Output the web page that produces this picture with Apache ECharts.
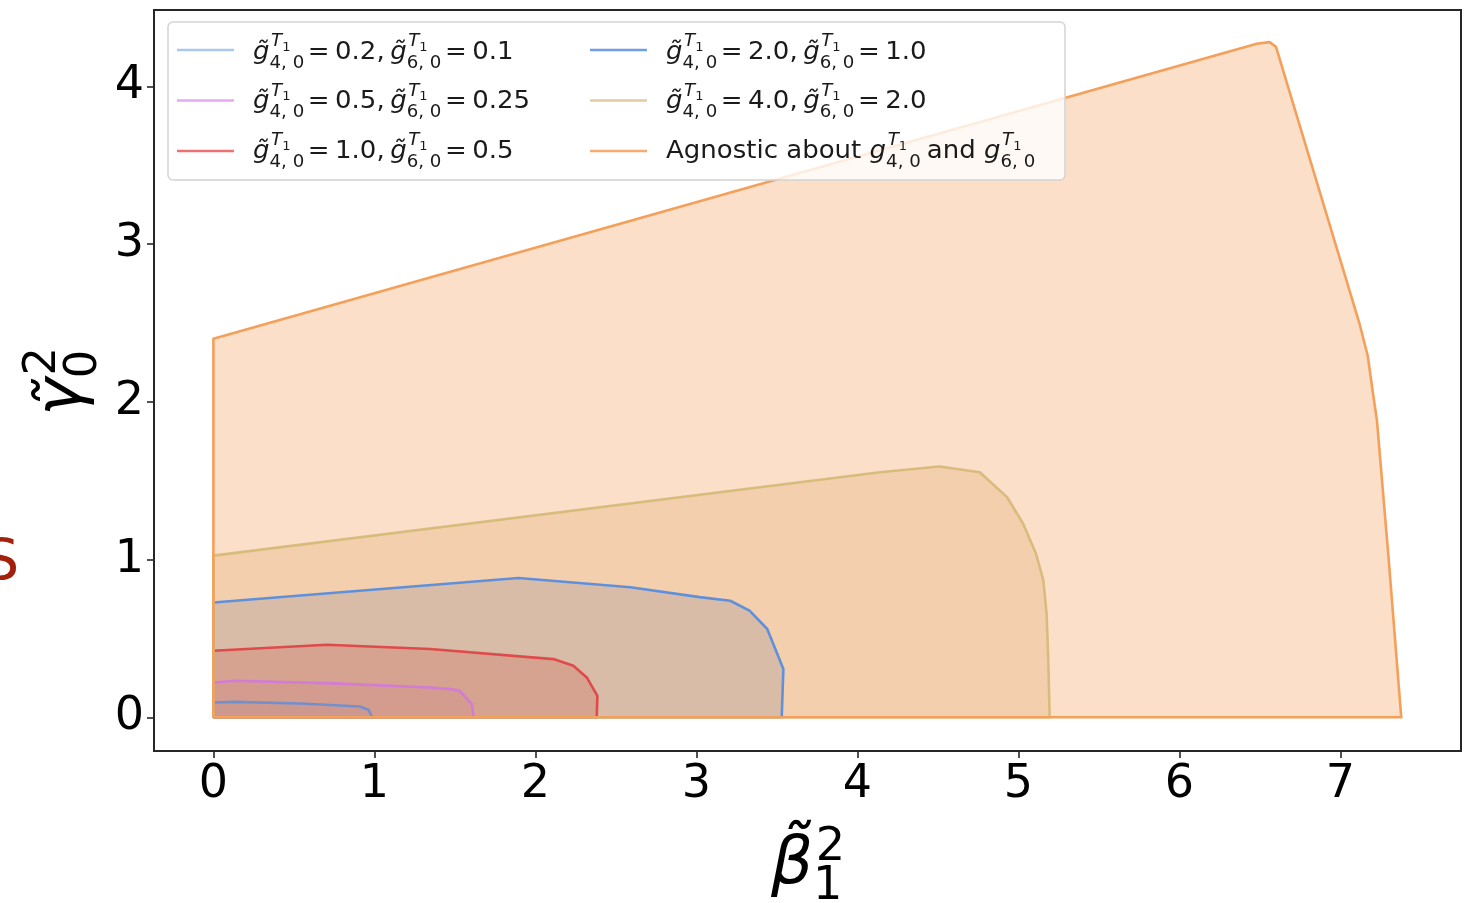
<!DOCTYPE html>
<html><head><meta charset="utf-8">
<script src="https://cdn.jsdelivr.net/npm/echarts@6/dist/echarts.min.js"></script>
<style>html,body{margin:0;padding:0;background:#fff}#c{width:1475px;height:903px}</style>
</head><body><div id="c"></div>
<script>
// ---- data ----
const xTicks = [0, 1, 2, 3, 4, 5, 6, 7];
const yTicks = [0, 1, 2, 3, 4];
const g40Labels = ['0.2', '0.5', '1.0', '2.0', '4.0'];
const g60Labels = ['0.1', '0.25', '0.5', '1.0', '2.0'];
const agnosticLabel = 'Agnostic about';
// boundaries of each allowed region: [beta1^2, gamma0^2]
const region02 = [[0,0],[0,0.094],[0.13,0.098],[0.54,0.088],[0.91,0.069],[0.965,0.046],[0.985,0]];
const region05 = [[0,0],[0,0.221],[0.13,0.232],[0.75,0.215],[1.347,0.189],[1.47,0.179],[1.53,0.168],[1.605,0.084],[1.615,0]];
const region10 = [[0,0],[0,0.422],[0.705,0.46],[1.347,0.433],[2.112,0.369],[2.236,0.327],[2.319,0.253],[2.385,0.136],[2.381,0]];
const region20 = [[0,0],[0,0.728],[1.895,0.883],[2.59,0.824],[3.02,0.762],[3.21,0.739],[3.33,0.676],[3.44,0.56],[3.54,0.306],[3.53,0]];
const region40 = [[0,0],[0,1.025],[4.14,1.553],[4.51,1.59],[4.76,1.553],[4.93,1.395],[5.03,1.226],[5.11,1.035],[5.155,0.866],[5.175,0.655],[5.185,0.38],[5.194,0]];
const regionAgn = [[0,0],[0,2.40],[6.48,4.27],[6.56,4.28],[6.60,4.25],[7.12,2.49],[7.17,2.29],[7.20,2.07],[7.227,1.88],[7.30,1.0],[7.378,0]];

const regions = [region02, region05, region10, region20, region40, regionAgn];
const fillColors = ['#6495ed', '#e070e0', '#d83434', '#5585e0', '#deb887', '#f2a15e'];
const fillOpacity = [0.34, 0.36, 0.42, 0.36, 0.34, 0.34];
const lineColors = ['#7390cc', '#d37bd6', '#df4a4a', '#5f90dc', '#d8bc7e', '#f4a05a'];
const legendColors = ['#a8c8f0', '#e6a8f3', '#ee7070', '#6f9fe6', '#e0cca0', '#f7ab70'];

// ---- text helpers ----
const FF = '"DejaVu Sans"';
const cv = document.createElement('canvas').getContext('2d');
function tw(s, font) { cv.font = font; return cv.measureText(s).width; }
function T(text, x, B, fs, italic, fill, sx) {
  return { type: 'text', x: x, y: B - 0.3 * fs, z: 100, scaleX: sx || 1,
    style: { text: text, font: (italic ? 'italic ' : '') + fs + 'px ' + FF, fill: fill || '#1a1a1a', align: 'left', verticalAlign: 'middle' } };
}
// base glyph with superscript and subscript stacked (mathtext-like); k = horizontal stretch
function scripted(els, x, B, fs, base, tilde, supKind, sub, fill, supShift, subShift, k) {
  k = k || 1;
  const fb = 'italic ' + fs + 'px ' + FF;
  els.push(T(base + (tilde ? '\u0303' : ''), x, B, fs, true, fill, k));
  const wb = tw(base, fb) * k;
  const sfs = fs * 0.7, ssfs = fs * 0.5;
  const sx = x + wb;
  let wsup;
  if (supKind === 'T1') {
    const fT = 'italic ' + sfs + 'px ' + FF;
    const wT = tw('T', fT) * k;
    els.push(T('T', sx + fs * 0.06 * k, B - fs * supShift, sfs, true, fill, k));
    els.push(T('1', sx + fs * 0.06 * k + wT, B - fs * supShift + ssfs * 0.35, ssfs, false, fill, k));
    wsup = fs * 0.06 * k + wT + tw('1', ssfs + 'px ' + FF) * k;
  } else {
    els.push(T(supKind, sx + fs * 0.04 * k, B - fs * supShift, sfs, false, fill, k));
    wsup = fs * 0.04 * k + tw(supKind, sfs + 'px ' + FF) * k;
  }
  els.push(T(sub, sx, B + fs * subShift, sfs, false, fill, k));
  const wsub = tw(sub, sfs + 'px ' + FF) * k;
  return sx + Math.max(wsup, wsub);
}
const LFS = 25.5, LK = 1.02;
function legendRow(els, x, B, a, b) {
  const f = LFS + 'px ' + FF;
  let cx = scripted(els, x, B, LFS, 'g', true, 'T1', '4, 0', null, 0.52, 0.33, LK);
  cx += 3.5; els.push(T('=', cx, B, LFS, false, null, LK)); cx += tw('=', f) * LK + 5.5;
  els.push(T(a + ',', cx, B, LFS, false, null, LK)); cx += tw(a + ',', f) * LK + 5.5;
  cx = scripted(els, cx, B, LFS, 'g', true, 'T1', '6, 0', null, 0.52, 0.33, LK);
  cx += 3.5; els.push(T('=', cx, B, LFS, false, null, LK)); cx += tw('=', f) * LK + 5.5;
  els.push(T(b, cx, B, LFS, false, null, LK));
}

const graphics = [];
// legend box
graphics.push({ type: 'rect', z: 99, shape: { x: 168, y: 22, width: 897, height: 158, r: 5 },
  style: { fill: 'rgba(255,255,255,0.8)', stroke: '#d4d4d4', lineWidth: 1.5 } });
const rowsB = [60, 109.5, 159];
const lineY = [50, 100.5, 151];
const colLineX = [177, 590];
const colTextX = [253, 666];
for (let i = 0; i < 6; i++) {
  const col = Math.floor(i / 3), row = i % 3;
  graphics.push({ type: 'line', z: 100, shape: { x1: colLineX[col], y1: lineY[row], x2: colLineX[col] + 57, y2: lineY[row] },
    style: { stroke: legendColors[i], lineWidth: 2.4 } });
  if (i < 5) {
    legendRow(graphics, colTextX[col], rowsB[row], g40Labels[i], g60Labels[i]);
  } else {
    const f = LFS + 'px ' + FF;
    let cx = colTextX[col];
    graphics.push(T(agnosticLabel, cx, rowsB[row], LFS, false, null, LK));
    cx += tw(agnosticLabel + ' ', f) * LK;
    cx = scripted(graphics, cx, rowsB[row], LFS, 'g', false, 'T1', '4, 0', null, 0.52, 0.33, LK);
    cx += 6;
    graphics.push(T('and', cx, rowsB[row], LFS, false, null, LK));
    cx += tw('and ', f) * LK;
    scripted(graphics, cx, rowsB[row], LFS, 'g', false, 'T1', '6, 0', null, 0.52, 0.33, LK);
  }
}
// x axis title
(function () {
  const els = [];
  scripted(els, 771, 886, 66, 'β', true, '2', '1', '#000', 0.36, 0.22);
  els.forEach(e => graphics.push(e));
})();
// y axis title (rotated)
(function () {
  const els = [];
  scripted(els, -32, 0, 64, 'γ', true, '2', '0', '#000', 0.42, 0.22);
  graphics.push({ type: 'group', x: 84, y: 384, rotation: Math.PI / 2, children: els });
})();
// clipped red letter at far left
graphics.push({ type: 'text', x: -17, y: 582 - 0.3 * 57, z: 100,
  style: { text: 'S', font: '57px ' + FF, fill: '#a3200c', align: 'left', verticalAlign: 'middle' } });

const series = [];
regions.forEach((r, i) => {
  series.push({ type: 'line', data: r, symbol: 'none', z: 2, silent: true,
    lineStyle: { width: 0, opacity: 0 }, areaStyle: { color: fillColors[i], opacity: fillOpacity[i], origin: 0 } });
});
regions.forEach((r, i) => {
  series.push({ type: 'line', data: r.concat([[0, 0]]), symbol: 'none', z: 3, silent: true,
    lineStyle: { width: 2.6, color: lineColors[i], join: 'round' } });
});

const chart = echarts.init(document.getElementById('c'), null, { renderer: 'canvas' });
chart.setOption({
  animation: false,
  backgroundColor: '#fff',
  grid: { left: 154, right: 14, top: 10, bottom: 152, show: true, borderColor: '#262626', borderWidth: 2,
    backgroundColor: 'transparent', containLabel: false, outerBoundsMode: 'none' },
  xAxis: { type: 'value', min: -0.369, max: 7.749, splitLine: { show: false },
    axisLine: { show: false, onZero: false },
    axisTick: { show: true, inside: false, length: 7, lineStyle: { color: '#262626', width: 1.6 }, customValues: xTicks },
    axisLabel: { customValues: xTicks, fontSize: 46, color: '#000', fontFamily: 'DejaVu Sans', margin: 11 } },
  yAxis: { type: 'value', min: -0.2135, max: 4.4835, splitLine: { show: false },
    axisLine: { show: false, onZero: false },
    axisTick: { show: true, inside: false, length: 7, lineStyle: { color: '#262626', width: 1.6 }, customValues: yTicks },
    axisLabel: { customValues: yTicks, fontSize: 46, color: '#000', fontFamily: 'DejaVu Sans', margin: 10 } },
  series: series,
  graphic: graphics
});
</script></body></html>
